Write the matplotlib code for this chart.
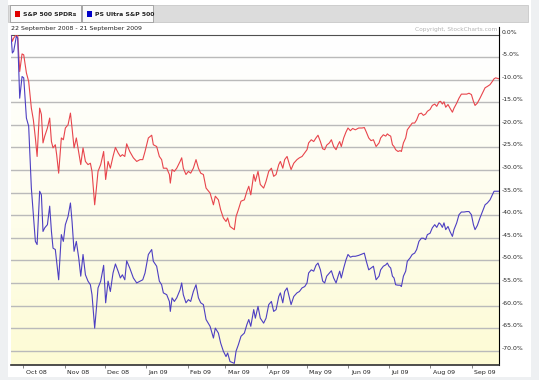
import numpy as np
import pandas as pd
import matplotlib
matplotlib.use("Agg")
import matplotlib.pyplot as plt
import matplotlib.dates as mdates
import matplotlib.transforms as mtransforms
from matplotlib.patches import Rectangle

# data: % change since 22 Sep 2008
start = pd.Timestamp("2008-09-22")
days = [0, 1, 2, 4, 5, 6.5, 8.25, 9.5, 11.5, 13.2, 15.2, 16.7, 18.2, 19.5, 21.4, 22.7,
        23.9, 25.2, 27.2, 28.9, 30.2, 31.4, 33.1, 34.1, 35.6, 37.6, 39.1, 40.6, 42.6,
        44.4, 45.6, 47.1, 48.8, 50.6, 52.1, 53.8, 55.6, 57.5, 59.3, 60.5, 62.5, 63.8,
        65.0, 67.0, 69.2, 70.7, 72.5, 74.2, 76.2, 78.0, 80.0, 81.7, 83.2, 85.0, 86.4,
        88.7, 91.4, 93.9, 96.4, 98.4, 100.1, 102.6, 105.1, 106.3, 108.8, 110.8, 112.5,
        113.8, 116.3, 118.3, 119.0, 120.3, 122.0, 123.8, 126.3, 127.5, 128.7, 130.7,
        132.5, 134.2, 136.2, 138.2, 140.0, 141.7, 143.7, 145.7, 148.7, 151.2, 152.6,
        154.9, 156.6, 158.6, 160.6, 161.8, 163.6, 166.8, 168.1, 169.8, 171.8, 174.3,
        176.2, 177.6, 179.1, 181.3, 182.5, 184.5, 186.2, 188.7, 190.5, 192.5, 194.5,
        196.2, 198.0, 200.0, 201.2, 203.0, 204.4, 206.2, 208.0, 209.2, 211.2, 213.6,
        215.4, 217.4, 219.4, 221.1, 222.3, 224.3, 226.1, 227.8, 229.3, 231.1, 232.8,
        234.3, 235.8, 237.8, 239.3, 241.0, 242.8, 244.3, 245.5, 246.7, 248.5, 250.2,
        251.7, 253.5, 255.2, 257.2, 259.7, 262.2, 263.9, 265.4, 267.2, 268.9, 270.7,
        272.7, 274.9, 276.1, 278.1, 279.9, 281.1, 282.3, 283.6, 284.9, 286.1, 287.3,
        289.1, 290.6, 291.6, 293.1, 294.8, 296.0, 298.0, 299.7, 301.5, 303.0, 304.7,
        306.5, 308.0, 309.7, 311.0, 313.0, 314.7, 316.5, 318.0, 319.7, 320.9, 322.2,
        323.4, 324.7, 326.4, 327.9, 329.7, 330.9, 332.9, 334.6, 336.4, 338.4, 340.4,
        342.1, 343.9, 345.4, 346.6, 348.3, 350.3, 352.1, 354.1, 355.8, 357.8, 359.5,
        360.8, 362.0, 364.5]
spy = [0, -1.5, -0.8, 0, -0.2, -8.2, -4.3, -4.5, -8.5, -10.4, -16.3, -18.9, -22.9, -27.0,
       -16.3, -17.7, -24.0, -22.5, -20.7, -18.5, -23.7, -25.1, -24.4, -26.6, -30.7, -22.9,
       -23.3, -20.7, -20.0, -17.4, -20.7, -25.1, -22.9, -26.2, -28.8, -25.1, -28.1, -28.8,
       -28.5, -30.3, -37.7, -34.0, -30.3, -28.8, -25.9, -32.1, -28.1, -29.6, -27.0, -25.0,
       -26.2, -27.0, -26.6, -27.0, -24.2, -25.9, -27.3, -28.1, -27.7, -27.7, -25.9, -22.9,
       -22.3, -24.4, -24.8, -27.0, -27.7, -29.6, -29.6, -31.0, -32.9, -29.9, -30.3, -29.6,
       -28.1, -27.3, -29.6, -31.0, -30.3, -30.7, -29.6, -27.7, -29.6, -30.7, -31.0, -34.0,
       -35.1, -37.7, -35.8, -36.6, -38.8, -40.6, -41.4, -40.6, -42.5, -43.2, -40.3, -38.8,
       -36.9, -36.6, -34.7, -33.6, -35.5, -31.0, -32.5, -30.3, -33.2, -34.0, -32.5, -30.3,
       -29.6, -31.4, -31.0, -28.8, -28.1, -29.6, -27.7, -27.0, -28.8, -29.9, -28.5, -27.7,
       -27.3, -27.0, -26.2, -25.5, -24.0, -23.3, -23.7, -22.9, -22.3, -23.7, -25.3, -25.5,
       -24.5, -24.0, -23.3, -24.8, -25.5, -24.4, -23.7, -24.8, -22.9, -21.6, -20.7, -21.3,
       -20.8, -21.1, -20.7, -20.7, -20.6, -21.6, -22.9, -23.5, -23.3, -24.8, -24.0, -22.9,
       -22.2, -22.5, -22.0, -22.3, -22.5, -24.4, -24.8, -25.5, -25.9, -25.7, -25.9, -24.0,
       -22.9, -21.1, -20.3, -19.6, -19.6, -18.9, -17.6, -17.4, -17.9, -17.6, -17.0, -16.6,
       -15.7, -15.4, -15.9, -14.9, -14.8, -15.4, -14.9, -16.1, -15.5, -16.3, -17.2, -16.3,
       -15.2, -14.1, -13.2, -13.2, -13.2, -13.0, -13.3, -14.8, -15.7, -15.2, -14.1, -13.0,
       -11.8, -11.5, -11.1, -10.4, -9.8, -9.6, -9.8]
sso = [0, -4.1, -3.7, -0.4, -0.8, -14.1, -9.3, -9.6, -18.5, -20.3, -34.0, -39.9, -45.8,
       -46.5, -34.7, -35.5, -43.6, -42.8, -42.1, -38.0, -43.6, -47.3, -47.6, -50.2, -54.3,
       -44.3, -45.8, -42.1, -40.3, -37.3, -41.4, -48.0, -45.8, -49.5, -53.5, -48.7, -53.2,
       -54.6, -55.4, -57.6, -65.0, -60.6, -56.1, -54.6, -51.1, -59.4, -54.6, -56.9, -52.8,
       -50.8, -52.4, -53.9, -53.2, -54.3, -50.1, -51.7, -53.9, -55.0, -54.6, -54.3, -52.8,
       -48.7, -47.6, -50.2, -51.3, -54.6, -55.4, -57.2, -57.6, -59.1, -61.3, -58.3, -59.1,
       -58.3, -56.5, -55.0, -57.6, -59.4, -58.7, -59.1, -56.9, -55.4, -58.3, -59.4, -59.8,
       -63.1, -64.6, -67.2, -65.0, -66.1, -68.3, -70.1, -71.3, -70.5, -72.4, -72.8, -70.1,
       -68.7, -66.8, -66.1, -64.2, -63.1, -64.6, -60.9, -62.8, -60.2, -62.8, -63.9, -62.8,
       -59.8, -59.1, -61.3, -60.9, -58.0, -57.2, -59.4, -56.9, -56.1, -58.3, -59.8, -58.0,
       -57.2, -56.9, -56.1, -55.8, -55.0, -52.8, -52.1, -52.4, -51.1, -50.6, -52.1, -54.6,
       -55.0, -53.5, -52.8, -52.3, -53.9, -55.0, -53.5, -52.4, -53.9, -51.7, -49.9, -48.7,
       -49.3, -49.1, -49.1, -48.9, -48.6, -48.4, -50.2, -52.1, -51.7, -51.3, -54.3, -53.5,
       -52.1, -51.3, -51.0, -50.6, -51.3, -51.7, -53.5, -53.9, -55.4, -55.5, -55.5, -55.8,
       -53.5, -52.4, -50.2, -49.5, -48.7, -48.4, -47.6, -45.8, -45.1, -45.1, -45.4, -44.3,
       -44.0, -42.8, -42.1, -42.7, -41.7, -42.0, -42.7, -41.7, -43.2, -42.5, -43.6, -44.7,
       -43.2, -41.7, -39.9, -39.3, -39.3, -39.2, -39.2, -39.9, -42.1, -43.2, -42.3, -40.6,
       -39.2, -37.7, -37.3, -36.6, -35.5, -34.7, -34.7, -34.7]

months = ["Oct 08", "Nov 08", "Dec 08", "Jan 09", "Feb 09", "Mar 09",
          "Apr 09", "May 09", "Jun 09", "Jul 09", "Aug 09", "Sep 09"]
month_starts = ["2008-10-01", "2008-11-01", "2008-12-01", "2009-01-01", "2009-02-01",
                "2009-03-01", "2009-04-01", "2009-05-01", "2009-06-01", "2009-07-01",
                "2009-08-01", "2009-09-01"]
levels = list(range(0, -75, -5))

W, H = 539, 380
fig = plt.figure(figsize=(W / 100, H / 100), dpi=100, facecolor="#eef0f2")


def fx(x):
    return x / W


def fy(y):
    return 1 - y / H


# white page + legend tab bar
fig.add_artist(Rectangle((fx(8), fy(377)), fx(523), 377 / H, transform=fig.transFigure,
                         facecolor="white", edgecolor="none", zorder=0))
fig.add_artist(Rectangle((fx(8), fy(22)), fx(520), 17 / H, transform=fig.transFigure,
                         facecolor="#dcdcdc", edgecolor="#c8c8c8", lw=0.6, zorder=1))
tabs = [(10, 81, "S&P 500 SPDRs", "#e00000"), (82, 153, "PS Ultra S&P 500", "#0000c8")]
for x0, x1, name, col in tabs:
    fig.add_artist(Rectangle((fx(x0), fy(22)), fx(x1 - x0), 17 / H, transform=fig.transFigure,
                             facecolor="#fafafa", edgecolor="#9a9a9a", lw=0.6, zorder=2))
    fig.add_artist(Rectangle((fx(x0 + 5), fy(16.5)), fx(5), 5 / H, transform=fig.transFigure,
                             facecolor=col, edgecolor="none", zorder=3))
    fig.text(fx(x0 + 13), fy(14), name, fontsize=4.4, fontweight="bold", color="#222222",
             va="center", ha="left", zorder=4)

fig.text(fx(11), fy(28.5), "22 September 2008 - 21 September 2009", fontsize=4.5,
         color="#222222", va="center", ha="left")
fig.text(fx(497), fy(29), "Copyright, StockCharts.com", fontsize=4.2, color="#b4b4b4",
         va="center", ha="right")

ax = fig.add_axes([fx(11), fy(364.7), fx(488), (364.7 - 34.5) / H])
x = mdates.date2num(start) + np.array(days)
x0, x1 = mdates.date2num(start), mdates.date2num(start) + 364.5
ymin = -73.1

# white -> pale yellow background
grad = np.linspace(0, 1, 256)[:, None] ** 1.3
top = np.array([1.0, 1.0, 1.0])
bot = np.array([253, 251, 212]) / 255
img = top + (bot - top) * grad[:, :, None]
ax.imshow(img, extent=[x0, x1, ymin, 0], aspect="auto", origin="upper", zorder=0)

for v in levels[1:]:
    ax.axhline(v, color="#bababa", lw=1.0, zorder=1)

ax.plot(x, spy, color="#e8454c", lw=0.8, zorder=3)
ax.plot(x, sso, color="#4d3fc2", lw=0.8, zorder=3)

ax.set_xlim(x0, x1)
ax.set_ylim(ymin, 0)

ax.spines["left"].set_visible(False)
ax.spines["top"].set_color("#505050")
ax.spines["top"].set_linewidth(0.8)
ax.spines["bottom"].set_color("#303030")
ax.spines["bottom"].set_linewidth(1.2)
ax.spines["right"].set_color("#000000")
ax.spines["right"].set_linewidth(0.8)

ax.yaxis.tick_right()
ax.set_yticks(levels)
ax.set_yticklabels(["%.1f%%" % v if v else "0.0%" for v in levels], fontsize=4.4,
                   color="#222222")
for lab in ax.get_yticklabels():
    lab.set_verticalalignment("bottom")
ax.tick_params(axis="y", length=0, pad=2)

mpos = mdates.date2num(pd.to_datetime(month_starts))
ax.set_xticks(mpos)
ax.set_xticklabels([])
ax.tick_params(axis="x", length=2.5, width=0.6, color="#707070", direction="out")
off = mtransforms.ScaledTranslation(2.5 / 100, -7.5 / 100, fig.dpi_scale_trans)
for p, m in zip(mpos, months):
    ax.text(p, 0, m, transform=ax.get_xaxis_transform() + off, fontsize=4.5,
            color="#222222", ha="left", va="center")

# right axis line runs a little above the chart top
fig.add_artist(plt.Line2D([fx(499), fx(499)], [fy(27), fy(35)], color="black", lw=0.8))

fig.savefig("out.png", dpi=100, facecolor=fig.get_facecolor())
